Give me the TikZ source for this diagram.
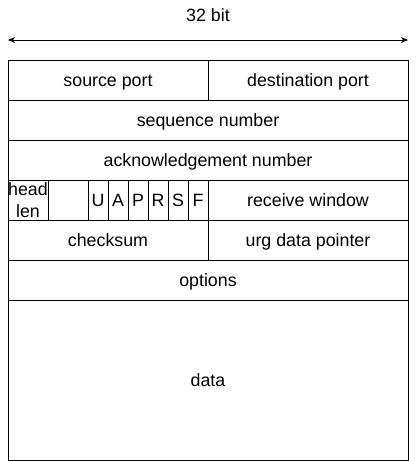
\documentclass[tikz,border=0pt]{standalone}
\usepackage{fontspec}
\setmainfont{Liberation Sans}
\usetikzlibrary{arrows.meta}
\begin{document}
\begin{tikzpicture}[x=1pt,y=-1pt,
  box/.style={draw,line width=1pt,inner sep=0pt,minimum height=40pt,
    font=\fontsize{17.8}{21.6}\selectfont,align=center},
  cell/.style={box,text height=16.1pt,text depth=3.8pt},
  lbl/.style={font=\fontsize{17.8}{21.6}\selectfont,inner sep=0pt,text height=16.1pt,text depth=3.8pt}]
\useasboundingbox (0,0) rectangle (418,461);
\node[cell,minimum width=200pt] (src) at (108,80) {source port};
\node[cell,minimum width=200pt] (dst) at (308,80) {destination port};
\node[cell,minimum width=400pt] (seq) at (208,120) {sequence number};
\node[cell,minimum width=400pt] (ack) at (208,160) {acknowledgement number};
\node[box,minimum width=40pt] (hl) at (28,200) {head\\len};
\node[cell,minimum width=40pt] (rsv) at (68,200) {};
\node[cell,minimum width=20pt] (fu) at (98,200) {U};
\node[cell,minimum width=20pt] (fa) at (118,200) {A};
\node[cell,minimum width=20pt] (fp) at (138,200) {P};
\node[cell,minimum width=20pt] (fr) at (158,200) {R};
\node[cell,minimum width=20pt] (fs) at (178,200) {S};
\node[cell,minimum width=20pt] (ff) at (198,200) {F};
\node[cell,minimum width=200pt] (rw) at (308,200) {receive window};
\node[cell,minimum width=200pt] (cks) at (108,240) {checksum};
\node[cell,minimum width=200pt] (urg) at (308,240) {urg data pointer};
\node[cell,minimum width=400pt] (opt) at (208,280) {options};
\node[cell,minimum width=400pt,minimum height=160pt] (data) at (208,380) {data};
\node[lbl] (title) at (208,15) {32 bit};
\coordinate (al) at (8,40);
\coordinate (ar) at (408,40);
\draw[line width=1pt,{Stealth[length=7pt,width=6pt,inset=2pt]}-{Stealth[length=7pt,width=6pt,inset=2pt]}] (al) -- (ar);
\end{tikzpicture}
\end{document}
